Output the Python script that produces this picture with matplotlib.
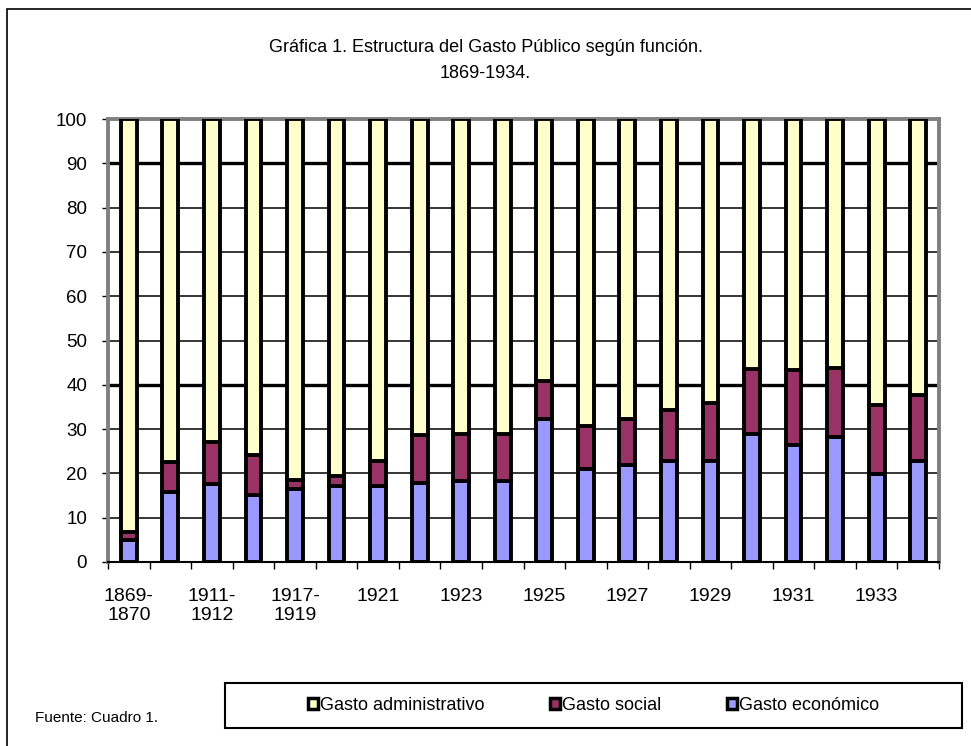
import numpy as np
import matplotlib.pyplot as plt
from matplotlib.patches import Patch, Rectangle

plt.rcParams["font.family"] = ["Liberation Sans", "DejaVu Sans"]

# data (percent of total spending)
periodos = ["1869-\n1870", "1899-\n1900", "1911-\n1912", "1912-\n1913", "1917-\n1919",
            "1920", "1921", "1922", "1923", "1924", "1925", "1926", "1927", "1928",
            "1929", "1930", "1931", "1932", "1933", "1934"]
economico = [5.0, 15.8, 17.7, 15.2, 16.5, 17.1, 17.1, 17.9, 18.2, 18.2,
             32.2, 21.1, 21.8, 22.9, 22.9, 28.9, 26.5, 28.3, 19.8, 22.9]
social = [1.8, 6.8, 9.5, 9.0, 1.9, 2.4, 5.7, 10.8, 10.8, 10.8,
          8.6, 9.6, 10.4, 11.4, 12.9, 14.6, 16.8, 15.5, 15.6, 14.9]
administrativo = [100 - e - s for e, s in zip(economico, social)]

series = ["Gasto administrativo", "Gasto social", "Gasto económico"]
colores = {"Gasto administrativo": "#FFFFCC", "Gasto social": "#993366",
           "Gasto económico": "#9999FF"}

fig = plt.figure(figsize=(9.71, 7.46), dpi=100)
ax = fig.add_axes([108 / 971, 1 - 562 / 746, 831 / 971, 443 / 746])

x = np.arange(len(periodos))
w = 0.38
kw = dict(width=w, edgecolor="black", linewidth=2.8, zorder=3)
ax.bar(x, economico, color=colores["Gasto económico"], **kw)
ax.bar(x, social, bottom=economico, color=colores["Gasto social"], **kw)
base = np.array(economico) + np.array(social)
ax.bar(x, administrativo, bottom=base, color=colores["Gasto administrativo"], **kw)

ax.set_xlim(-0.5, len(periodos) - 0.5)
ax.set_ylim(0, 100)

# gridlines (Excel drew 40 and 90 a bit heavier)
for v in range(10, 100, 10):
    ax.axhline(v, color="black", linewidth=2.4 if v in (40, 90) else 1.1, zorder=1)

ax.set_yticks(range(0, 101, 10))
ax.tick_params(axis="y", length=4, width=1, labelsize=13.5, pad=11)

ax.set_xticks(x[::2])
ax.set_xticklabels(periodos[::2], fontsize=14, linespacing=1.15)
ax.set_xticks(np.arange(-0.5, len(periodos), 1), minor=True)
ax.tick_params(axis="x", which="major", length=0, pad=19)
ax.tick_params(axis="x", which="minor", length=5, width=1, direction="out")

for s in ("top", "left", "right"):
    ax.spines[s].set_color("#808080")
    ax.spines[s].set_linewidth(2.8)
ax.spines["bottom"].set_color("black")
ax.spines["bottom"].set_linewidth(1.5)
ax.spines["bottom"].set_zorder(4)

fig.text(0.5, 1 - 48 / 746, "Gráfica 1. Estructura del Gasto Público según función.",
         ha="center", va="center", fontsize=13)
fig.text(0.5, 1 - 74 / 746, "1869-1934.", ha="center", va="center", fontsize=13)

fig.text(35 / 971, 1 - 718 / 746, "Fuente: Cuadro 1.", ha="left", va="center", fontsize=11)

# outer chart border
fig.patches.append(Rectangle((7 / 971, -0.05), 1.1, 1 - 9 / 746 + 0.05,
                             transform=fig.transFigure, fill=False,
                             edgecolor="black", linewidth=1.2))

# legend box
fig.patches.append(Rectangle((225 / 971, 1 - 728 / 746), 737 / 971, 45 / 746,
                             transform=fig.transFigure, fill=False,
                             edgecolor="black", linewidth=1.5))
handles = [Patch(facecolor=colores[s], edgecolor="black", linewidth=2.5) for s in series]
fig.legend(handles, series, loc="center", ncol=3, frameon=False, fontsize=13,
           bbox_to_anchor=(225 / 971, 1 - 728 / 746, 737 / 971, 45 / 746),
           handlelength=0.55, handleheight=0.55, handletextpad=0.15, columnspacing=3.6)

fig.savefig("out.png", dpi=100)
